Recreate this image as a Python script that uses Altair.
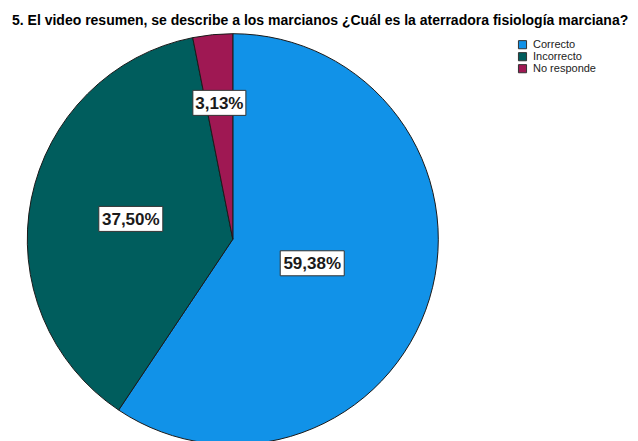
import altair as alt
import pandas as pd
from decimal import Decimal, ROUND_HALF_UP

categories = ["Correcto", "Incorrecto", "No responde"]
counts = [19, 12, 1]
colors = ["#1192e8", "#005d5d", "#9f1853"]
title_text = "5. El video resumen, se describe a los marcianos ¿Cuál es la aterradora fisiología marciana?"

total = sum(counts)


def pct_label(c):
    v = (Decimal(c) * 100 / Decimal(total)).quantize(Decimal("0.01"), rounding=ROUND_HALF_UP)
    return str(v).replace(".", ",") + "%"


df = pd.DataFrame({"categoria": categories, "n": counts, "idx": list(range(len(categories)))})
df["etiqueta"] = [pct_label(c) for c in counts]

# layout constants (pixels, relative to the plot area)
CX, CY, R = 224.8, 207.2, 205.5

base = alt.Chart(df)

color_enc = alt.Color(
    "categoria:N",
    scale=alt.Scale(domain=categories, range=colors),
    legend=alt.Legend(
        title=None, orient="none", legendX=509, legendY=7.2,
        symbolType="square", symbolSize=66, symbolStrokeColor="#333333",
        symbolStrokeWidth=1, labelFont="Liberation Sans", labelFontSize=11,
        labelColor="#222222", rowPadding=-2.5, labelOffset=5, padding=0,
    ),
)

pie = base.mark_arc(outerRadius=R, stroke="#1a1a1a", strokeWidth=1).encode(
    theta=alt.Theta("n:Q", stack=True),
    order=alt.Order("idx:Q"),
    color=color_enc,
    x=alt.value(CX),
    y=alt.value(CY),
)

lab = (
    base.transform_joinaggregate(total="sum(n)")
    .transform_window(cum="sum(n)", sort=[alt.SortField("idx", order="ascending")], frame=[None, 0])
    .transform_calculate(frac="datum.n / datum.total")
    .transform_calculate(ang="(datum.cum - datum.n / 2) / datum.total * 2 * PI")
    .transform_calculate(rl="140 - 96 * datum.frac")
    .transform_calculate(lx=f"{CX} + datum.rl * sin(datum.ang)")
    .transform_calculate(ly=f"{CY} - datum.rl * cos(datum.ang)")
    .transform_calculate(w="length(datum.etiqueta) * 11 - 2")
    .transform_calculate(bx1="datum.lx - datum.w / 2")
    .transform_calculate(bx2="datum.lx + datum.w / 2")
    .transform_calculate(by1="datum.ly - 12.5")
    .transform_calculate(by2="datum.ly + 12.5")
)

box = lab.mark_rect(fill="white", stroke="#333333", strokeWidth=1).encode(
    x=alt.X("bx1:Q", scale=None, axis=None),
    x2="bx2:Q",
    y=alt.Y("by1:Q", scale=None, axis=None),
    y2="by2:Q",
)

txt = lab.mark_text(
    font="Liberation Sans", fontWeight="bold", fontSize=17, color="#1a1a1a",
    baseline="middle", align="center", dy=1,
).encode(
    x=alt.X("lx:Q", scale=None, axis=None),
    y=alt.Y("ly:Q", scale=None, axis=None),
    text="etiqueta:N",
)

chart = (
    alt.layer(pie, box, txt)
    .properties(
        width=622,
        height=400,
        padding={"top": 5, "left": 0, "right": 0, "bottom": 0},
        title=alt.Title(
            title_text, anchor="start", font="Liberation Sans", fontSize=14,
            fontWeight="bold", color="black", dx=4, offset=4,
        ),
    )
    .configure_view(stroke=None)
)

chart.save("out.html", embed_options={"renderer": "svg", "actions": False})
